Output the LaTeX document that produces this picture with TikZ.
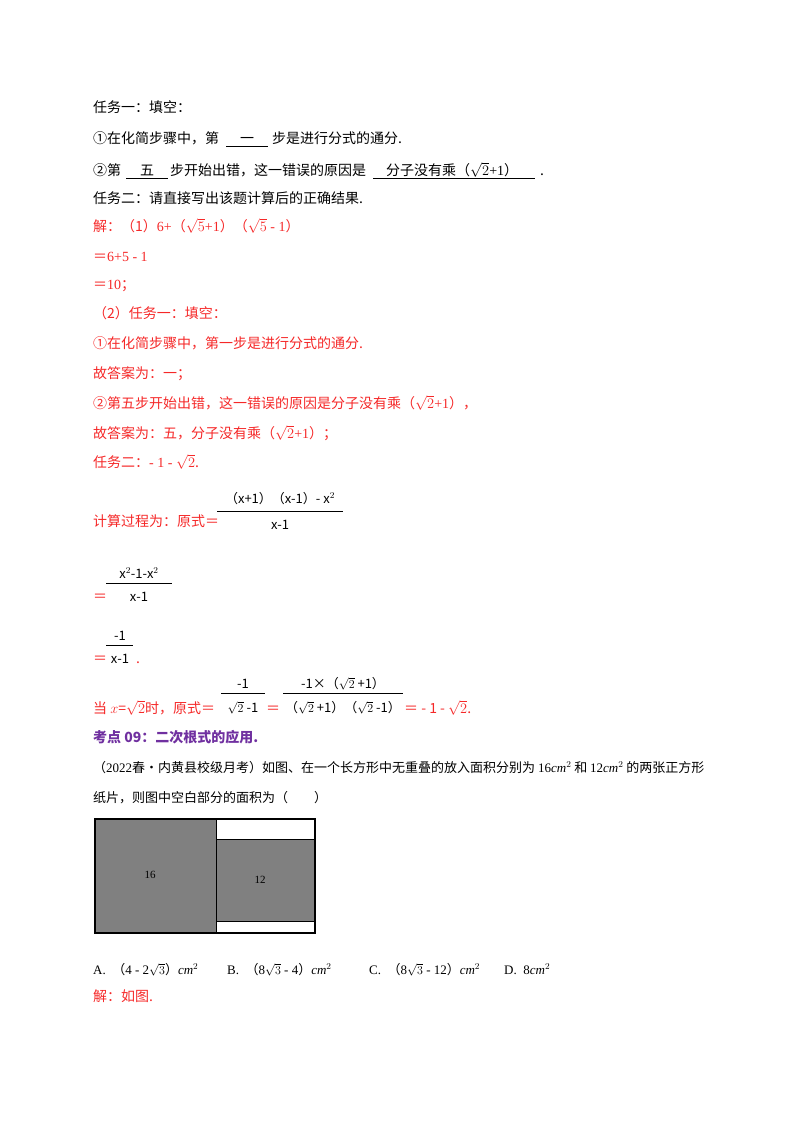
\documentclass[tikz,border=0pt]{standalone}
\usepackage{fontspec}
\setmainfont{Noto Sans CJK SC}
\newfontfamily\lat{Liberation Serif}
\newfontfamily\cj{Noto Sans CJK SC}
\definecolor{rd}{RGB}{245,40,40}
\definecolor{pu}{RGB}{112,48,160}
\definecolor{gr}{RGB}{128,128,128}
\begin{document}
\begin{tikzpicture}[x=1pt,y=-1pt,
  t/.style={anchor=base west,inner sep=0pt,font=\fontsize{14}{15}\selectfont},
  tc/.style={anchor=base,inner sep=0pt,font=\fontsize{13}{15}\selectfont},
  r/.style={t,text=rd},
  fl/.style={line width=0.6pt}]
\useasboundingbox (0,0) rectangle (800,1132);
\node[t] (l1) at (93,112) {任务一：填空：};
\node[t] (l2) at (93,143) {①在化简步骤中，第};
\node[t] (l2a) at (240,143) {一};
\node[t] (l2b) at (272,143) {步是进行分式的通分.};
\draw[fl] (226,146) -- (268,146);
\node[t] (l3) at (93,175) {②第};
\node[t] (l3a) at (140,175) {五};
\draw[fl] (126,178) -- (168,178);
\node[t] (l3b) at (170,175) {步开始出错，这一错误的原因是};
\node[t] (l3c) at (386,175) {分子没有乘（$\sqrt{2}${\lat+1}）};
\draw[fl] (373,178) -- (535,178);
\node[t] (l3d) at (540,175) {.};
\node[t] (l4) at (93,203) {任务二：请直接写出该题计算后的正确结果.};
\node[r] (r1) at (93,231) {解：（1）{\lat 6+}（$\sqrt{5}${\lat+1}）（$\sqrt{5}${\lat\ - 1}）};
\node[r] (r2) at (93,261) {＝{\lat 6+5 - 1}};
\node[r] (r3) at (93,289) {＝{\lat 10}；};
\node[r] (r4) at (93,318) {（2）任务一：填空：};
\node[r] (r5) at (93,348) {①在化简步骤中，第一步是进行分式的通分.};
\node[r] (r6) at (93,378) {故答案为：一；};
\node[r] (r7) at (93,408) {②第五步开始出错，这一错误的原因是分子没有乘（$\sqrt{2}${\lat+1}），};
\node[r] (r8) at (93,438) {故答案为：五，分子没有乘（$\sqrt{2}${\lat+1}）；};
\node[r] (r9) at (93,467) {任务二：{\lat - 1 - }$\sqrt{2}$.};
\node[r] (c1) at (93,526) {计算过程为：原式＝};
\draw[fl] (217,511) -- (343,511);
\node[tc] (c1n) at (280,503) {（x+1）（x-1）- x$^{2}$};
\node[tc] (c1d) at (280,529) {x-1};
\node[r] (c2) at (93,601) {＝};
\draw[fl] (106,583) -- (172,583);
\node[tc] (c2n) at (139,578) {x$^{2}$-1-x$^{2}$};
\node[tc] (c2d) at (139,601) {x-1};
\node[r] (c3) at (93,663) {＝};
\draw[fl] (106,645) -- (133,645);
\node[tc] (c3n) at (120,640) {-1};
\node[tc] (c3d) at (120,663) {x-1};
\node[r] (c3e) at (136,663) {.};
\node[r] (c4) at (93,713) {当 $x$=$\sqrt{2}$时，原式＝};
\draw[fl] (221,693) -- (265,693);
\node[tc] (c4n) at (243,688) {-1};
\node[tc] (c4d) at (243,712) {$\sqrt{2}$ -1};
\node[r] (c4e) at (266,713) {＝};
\draw[fl] (283,693) -- (403,693);
\node[tc] (c5n) at (343,688) {-1×（$\sqrt{2}$ +1）};
\node[tc] (c5d) at (343,712) {（$\sqrt{2}$ +1）（$\sqrt{2}$ -1）};
\node[r] (c5e) at (404,713) {＝ - 1 - $\sqrt{2}$.};
\node[t,text=pu,font=\fontsize{14}{15}\selectfont\bfseries] (h) at (93,742) {考点 09：二次根式的应用.};
\node[t,font=\fontsize{13}{15}\selectfont] (q1) at (93,772) {（{\lat 2022}春•内黄县校级月考）如图、在一个长方形中无重叠的放入面积分别为 {\lat 16\textit{cm}$^2$} 和 {\lat 12\textit{cm}$^2$} 的两张正方形};
\node[t,font=\fontsize{13}{15}\selectfont] (q2) at (93,802) {纸片，则图中空白部分的面积为（\qquad）};
\fill[gr] (95,819) rectangle (216,933);
\fill[gr] (216,839) rectangle (315,921);
\draw[line width=0.8pt] (216,819) -- (216,933) (216,839) -- (315,839) (216,921) -- (315,921);
\draw[line width=1.3pt] (95,819) rectangle (315,933);
\node[tc,font=\lat\fontsize{11}{12}\selectfont] (n16) at (150,878) {16};
\node[tc,font=\lat\fontsize{11}{12}\selectfont] (n12) at (260,883) {12};
\node[t,font=\lat\fontsize{13}{15}\selectfont] (oa) at (93,974) {A.\enspace{\cj （}4 - 2$\sqrt{3}${\cj ）}\textit{cm}$^2$};
\node[t,font=\lat\fontsize{13}{15}\selectfont] (ob) at (227,974) {B.\enspace{\cj （}8$\sqrt{3}$ - 4{\cj ）}\textit{cm}$^2$};
\node[t,font=\lat\fontsize{13}{15}\selectfont] (oc) at (369,974) {C.\enspace{\cj （}8$\sqrt{3}$ - 12{\cj ）}\textit{cm}$^2$};
\node[t,font=\lat\fontsize{13}{15}\selectfont] (od) at (504,974) {D.\enspace 8\textit{cm}$^2$};
\node[r] (ans) at (93,1001) {解：如图.};
\end{tikzpicture}
\end{document}
